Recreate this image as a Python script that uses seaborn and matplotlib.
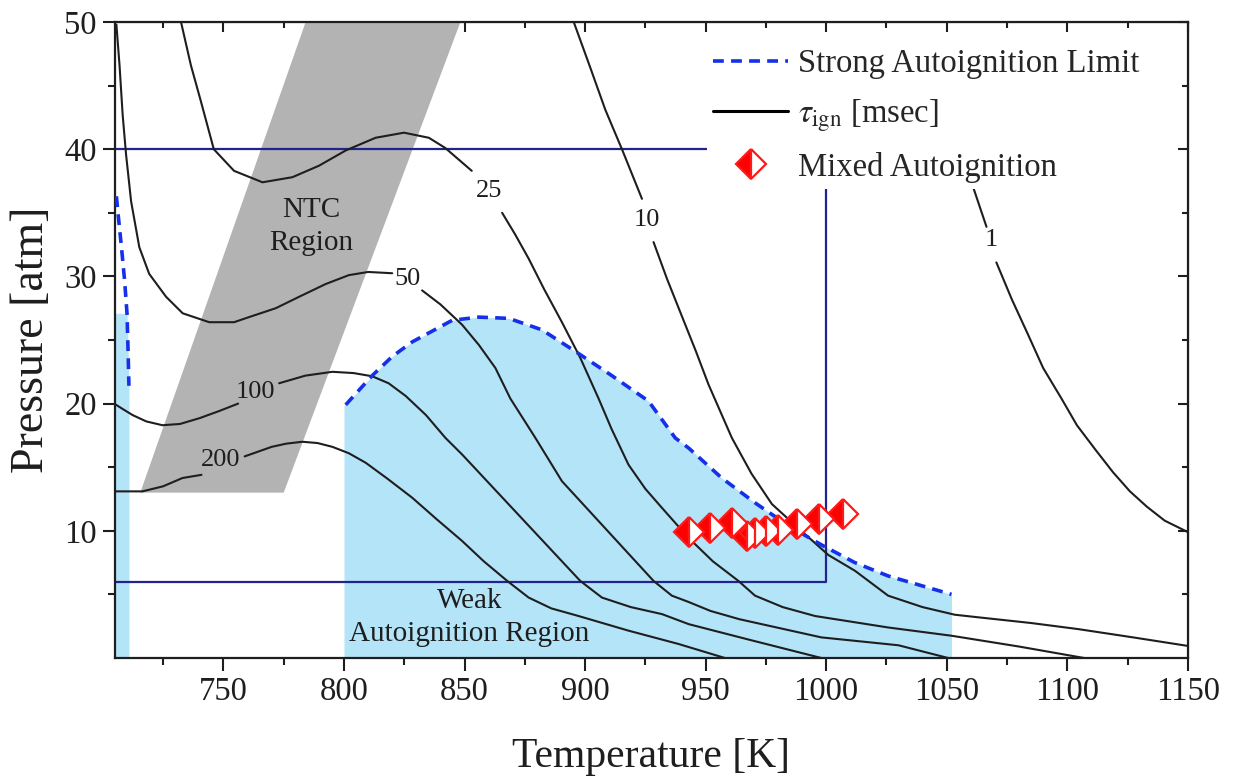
import numpy as np
import pandas as pd
import matplotlib
matplotlib.use("Agg")
import matplotlib.pyplot as plt
from matplotlib.lines import Line2D
import seaborn as sns

nan = np.nan

# Ignition-delay isolines, tau_ign in msec (T in K, P in atm).
# A NaN splits a line where its inline label sits.
iso200_T = [704.7, 716.4, 725.0, 733.0, 740.9, nan, 758.8, 770.0, 776.0, 782.7, 789.0,
            795.2, 802.0, 809.0, 818.0, 828.3, 838.5, 849.0, 858.0, 867.7, 876.6, 886.0,
            897.3, 918.0, 938.8, 958.0]
iso200_P = [13.1, 13.1, 13.5, 14.15, 14.4, nan, 15.85, 16.6, 16.85, 17.0, 16.9,
            16.6, 16.1, 15.35, 14.1, 12.6, 10.9, 9.2, 7.6, 6.06, 4.75, 3.9,
            3.3, 2.15, 1.1, 0.0]

iso100_T = [704.7, 708.0, 712.3, 718.0, 724.7, 732.0, 740.0, 748.0, 756.1, nan,
            773.1, 784.0, 795.2, 804.0, 811.7, 818.5, 825.6, 834.0, 842.1, 849.0,
            869.7, 898.0, 907.0, 919.0, 931.9, 943.0, 967.8, 998.0]
iso100_P = [20.0, 19.6, 19.1, 18.6, 18.3, 18.4, 18.85, 19.4, 20.0, nan,
            21.6, 22.2, 22.5, 22.4, 22.15, 21.6, 20.6, 19.1, 17.3, 16.0,
            11.8, 6.06, 4.75, 4.0, 3.45, 2.66, 1.45, 0.0]

iso50_T = [705.6, 706.9, 708.2, 709.6, 711.7, 715.1, 719.2, 726.2, 733.1, 744.1, 754.4,
           760.6, 771.7, 781.4, 792.4, 802.0, 810.0, 820.0, nan,
           832.4, 840.0, 849.0, 856.0, 862.8, 869.0, 879.4, 890.4, 928.4, 936.0, 943.0,
           952.0, 964.0, 998.0, 1030.0, 1050.6]
iso50_P = [49.8, 46.6, 42.7, 39.6, 35.9, 32.3, 30.2, 28.4, 27.1, 26.4, 26.4,
           26.8, 27.5, 28.4, 29.4, 30.1, 30.35, 30.25, nan,
           28.9, 27.8, 26.2, 24.6, 22.8, 20.4, 17.3, 13.9, 6.06, 4.9, 4.4,
           3.7, 3.05, 1.62, 1.0, 0.0]

iso25_T = [732.4, 736.5, 740.6, 746.0, 754.4, 766.2, 778.6, 789.6, 800.7, 813.1, 824.9,
           835.2, 842.0, 853.0, nan,
           865.6, 871.0, 876.6, 883.0, 890.4, 898.0, 905.6, 911.0, 918.0, 925.0, 931.9,
           942.9, 953.0, 963.6, 970.5, 982.0, 995.4, 1025.7, 1052.0, 1080.0, 1107.0]
iso25_P = [50.0, 46.6, 43.8, 40.0, 38.3, 37.4, 37.8, 38.7, 39.9, 40.9, 41.3,
           40.9, 40.1, 38.3, nan,
           35.0, 33.3, 31.4, 29.0, 26.4, 23.6, 20.4, 18.0, 15.2, 13.3, 11.8,
           9.45, 7.6, 6.06, 4.9, 4.0, 3.3, 2.4, 1.75, 0.9, 0.0]

iso10_T = [895.3, 902.0, 908.4, 915.3, 923.6, nan,
           928.4, 934.0, 940.1, 946.0, 951.2, 960.9, 969.0, 977.5, 988.5, 1000.9,
           1012.0, 1025.7, 1040.0, 1053.4, 1063.0, 1085.0, 1104.6, 1128.0, 1150.0]
iso10_P = [50.0, 46.5, 43.1, 40.0, 36.1, nan,
           32.7, 29.8, 26.9, 24.1, 21.5, 17.3, 14.5, 12.1, 10.2, 8.1,
           6.85, 4.9, 4.0, 3.4, 3.2, 2.75, 2.27, 1.6, 0.95]

iso1_T = [1057.5, 1061.0, 1066.5, nan, 1070.6, 1077.0, 1083.8, 1090.0, 1097.6, 1104.0,
          1112.0, 1119.0, 1126.0, 1133.0, 1140.4, 1150.0]
iso1_P = [39.5, 37.0, 33.9, nan, 31.1, 28.2, 25.4, 22.8, 20.4, 18.3,
          16.3, 14.6, 13.1, 11.9, 10.8, 9.9]

iso_names = ["200", "100", "50", "25", "10", "1"]
iso_label_T = [748.7, 763.3, 826.2, 860.0, 925.7, 1068.5]
iso_label_P = [15.6, 20.9, 29.8, 36.7, 34.4, 32.9]

# Strong autoignition limit (main lobe and the low-temperature branch)
limit_T = [800.7, 811.7, 820.0, 828.3, 844.9, 855.9, 868.4, 882.1, 896.0, 911.1, 926.3,
           937.4, 943.0, 956.7, 970.5, 984.3, 998.0, 1011.9, 1025.7, 1052.0]
limit_P = [19.9, 22.2, 23.7, 24.85, 26.55, 26.8, 26.7, 25.8, 24.1, 22.2, 20.2,
           17.3, 16.5, 14.15, 12.2, 10.4, 8.9, 7.5, 6.45, 5.0]
limit_low_T = [705.6, 706.3, 707.7, 709.0, 710.0, 710.4, 710.8]
limit_low_P = [36.3, 34.9, 32.3, 29.7, 27.1, 24.5, 21.4]

# Weak autoignition strip next to the axis
strip_P = [0.0, 21.4, 24.5, 27.1]
strip_T = [710.8, 710.8, 710.4, 710.0]

# NTC region corners
ntc_T = [715.5, 775.0, 848.3, 784.1]
ntc_P = [13.0, 13.0, 50.0, 50.0]

# Engine operating window
window_T = [705.0, 1000.0, 1000.0, 705.0]
window_P = [40.0, 40.0, 6.0, 6.0]

# Mixed autoignition cases
mixed_T = [943.0, 952.0, 961.0, 967.0, 970.5, 975.0, 980.0, 988.0, 997.0, 1007.0]
mixed_P = [9.9, 10.2, 10.6, 9.6, 9.85, 10.0, 10.1, 10.5, 10.9, 11.3]

sns.set_style("ticks")
plt.rcParams["font.family"] = ["Liberation Serif", "DejaVu Serif"]
plt.rcParams["mathtext.fontset"] = "stix"

BLUE_FILL = "#b4e4f8"
NAVY = "#23238f"
GREY = "#b3b3b3"
INK = "#1e1e1e"
DASH_BLUE = "#1530e8"

# long table of isoline segments for seaborn
rows = []
for name, T, P in zip(iso_names,
                      [iso200_T, iso100_T, iso50_T, iso25_T, iso10_T, iso1_T],
                      [iso200_P, iso100_P, iso50_P, iso25_P, iso10_P, iso1_P]):
    seg = 0
    for t, p in zip(T, P):
        if np.isnan(t):
            seg += 1
            continue
        rows.append({"tau": name, "unit": f"{name}-{seg}", "T": t, "P": p})
iso_df = pd.DataFrame(rows)

fig = plt.figure(figsize=(12.36, 7.81), dpi=100)
ax = fig.add_axes([0.093, 0.1575, 0.868, 0.8143])

# shaded regions
ax.fill_between([800.0] + limit_T, [19.9] + limit_P, 0, color=BLUE_FILL, lw=0, zorder=1)
ax.fill_betweenx(strip_P, 705.0, strip_T, color=BLUE_FILL, lw=0, zorder=1)
ax.fill(ntc_T, ntc_P, color=GREY, lw=0, zorder=1)

ax.plot(window_T, window_P, color=NAVY, lw=1.6, zorder=2)

sns.lineplot(data=iso_df, x="T", y="P", units="unit", estimator=None, sort=False,
             color=INK, lw=1.5, ax=ax, legend=False, zorder=3)

ax.plot(limit_T, limit_P, color=DASH_BLUE, lw=2.6, dashes=(3, 2), zorder=4)
ax.plot(limit_low_T, limit_low_P, color=DASH_BLUE, lw=2.6, dashes=(3, 2), zorder=4)

ax.plot(mixed_T, mixed_P, ls="none", marker="D", ms=15, fillstyle="left",
        markerfacecolor="#ff0000", markerfacecoloralt="white",
        markeredgecolor="#ff1a1a", markeredgewidth=1.6, zorder=5)

for name, t, p in zip(iso_names, iso_label_T, iso_label_P):
    ax.text(t, p, name, fontsize=19, ha="center", va="center", color=INK, zorder=6)

ax.text(786.3, 33.9, "NTC\nRegion", fontsize=21, ha="center", va="center",
        color=INK, linespacing=1.35, zorder=6)
ax.text(852.0, 3.2, "Weak\nAutoignition Region", fontsize=21, ha="center", va="center",
        color=INK, linespacing=1.35, zorder=6)

ax.set_xlim(705, 1150)
ax.set_ylim(0, 50)
ax.set_xticks(np.arange(750, 1151, 50))
ax.set_xticks(np.arange(725, 1151, 25), minor=True)
ax.set_yticks([10, 20, 30, 40, 50])
ax.set_yticks(np.arange(5, 50, 5), minor=True)
ax.tick_params(which="major", direction="out", length=9, width=1.5, labelsize=23.5,
               pad=4, colors=INK, top=False, right=False)
ax.tick_params(which="minor", direction="out", length=5, width=1.5,
               colors=INK, top=False, right=False)
for s in ax.spines.values():
    s.set_linewidth(1.6)
    s.set_color(INK)

top = ax.secondary_xaxis("top")
top.set_xticks(np.arange(750, 1151, 50))
top.set_xticks(np.arange(725, 1151, 25), minor=True)
top.tick_params(which="major", direction="in", length=7, width=1.5, labeltop=False, colors=INK)
top.tick_params(which="minor", direction="in", length=4, width=1.5, labeltop=False, colors=INK)
right = ax.secondary_yaxis("right")
right.set_yticks([10, 20, 30, 40, 50])
right.set_yticks(np.arange(5, 50, 5), minor=True)
right.tick_params(which="major", direction="in", length=7, width=1.5, labelright=False, colors=INK)
right.tick_params(which="minor", direction="in", length=4, width=1.5, labelright=False, colors=INK)

ax.set_xlabel("Temperature [K]", fontsize=30, color=INK, labelpad=22)
ax.set_ylabel("Pressure [atm]", fontsize=33, color=INK, labelpad=8)

handles = [
    Line2D([], [], color=DASH_BLUE, lw=2.6, dashes=(3, 2)),
    Line2D([], [], color="black", lw=2.2),
    Line2D([], [], ls="none", marker="D", ms=15, fillstyle="left",
           markerfacecolor="#ff0000", markerfacecoloralt="white",
           markeredgecolor="#ff1a1a", markeredgewidth=1.6),
]
labels = ["Strong Autoignition Limit", r"$\tau_{\mathrm{ign}}$ [msec]", "Mixed Autoignition"]
leg = ax.legend(handles, labels, loc="upper left", bbox_to_anchor=(0.5517, 0.968),
                fontsize=23.5, frameon=True, fancybox=False, framealpha=1,
                handlelength=2.3, handletextpad=0.3, labelspacing=0.55,
                borderpad=0.2, borderaxespad=0)
leg.get_frame().set_edgecolor("none")
leg.get_frame().set_facecolor("white")
leg.set_zorder(10)

fig.savefig("out.png", dpi=100)
